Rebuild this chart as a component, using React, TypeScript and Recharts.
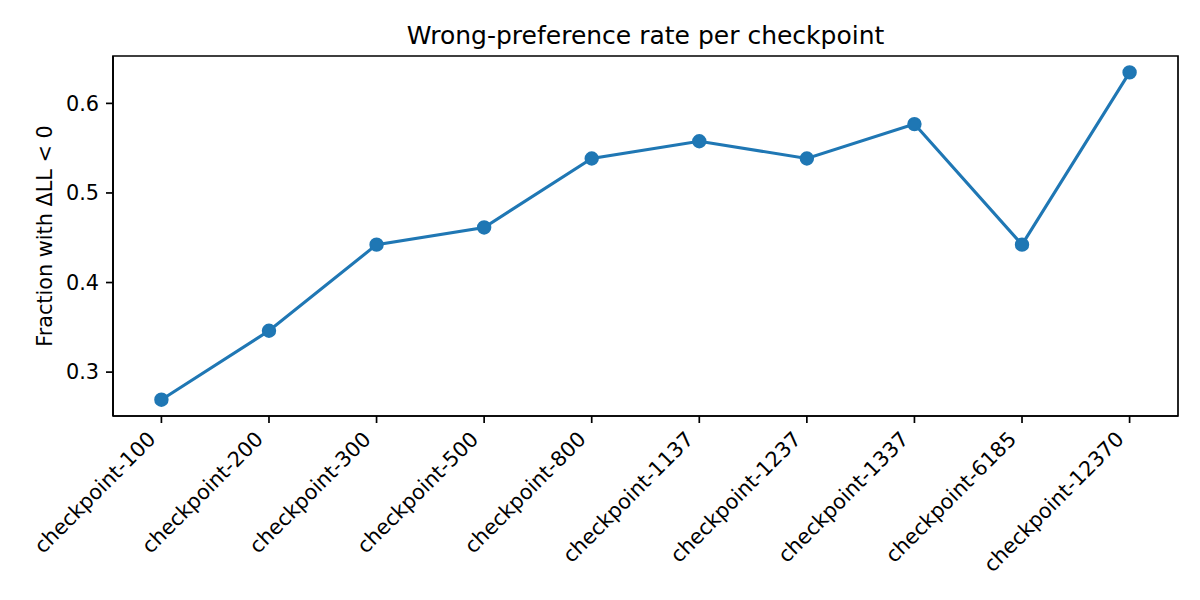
import React from "react";
import { LineChart, Line, XAxis, YAxis, ReferenceArea } from "recharts";

const checkpoints = [
  "checkpoint-100",
  "checkpoint-200",
  "checkpoint-300",
  "checkpoint-500",
  "checkpoint-800",
  "checkpoint-1137",
  "checkpoint-1237",
  "checkpoint-1337",
  "checkpoint-6185",
  "checkpoint-12370",
];
const wrongRate = [
  0.2692, 0.3462, 0.4423, 0.4615, 0.5385, 0.5577, 0.5385, 0.5769, 0.4423, 0.6346,
];
const yTicks = [0.3, 0.4, 0.5, 0.6];

const data = checkpoints.map((label, i) => ({ idx: i, label, value: wrongRate[i] }));
const xTicks = checkpoints.map((_, i) => i);

const X_MIN = -0.45;
const X_MAX = 9.45;
const Y_MIN = 0.251;
const Y_MAX = 0.6529;

const FONT = "DejaVu Sans";
const BLUE = "#1f77b4";

const XTick = (props: any) => {
  const { x, y, payload } = props;
  const label = checkpoints[payload.value];
  const ax = x - 4.5;
  const ay = y + 17.5;
  return (
    <text
      x={ax}
      y={ay}
      transform={`rotate(-45, ${ax}, ${ay})`}
      textAnchor="end"
      fontFamily={FONT}
      fontSize={20.8}
      fill="#000"
    >
      {label}
    </text>
  );
};

export default function App() {
  return (
    <div style={{ position: "absolute", left: 0, top: 0, width: 1200, height: 600, background: "#fff" }}>
      <LineChart
        width={1200}
        height={600}
        data={data}
        margin={{ top: 56, right: 22, bottom: 0, left: 0 }}
      >
        <XAxis
          dataKey="idx"
          type="number"
          domain={[X_MIN, X_MAX]}
          ticks={xTicks}
          interval={0}
          height={184}
          tickSize={7}
          tickMargin={0}
          tick={<XTick />}
          axisLine={{ stroke: "#000", strokeWidth: 1.7 }}
          tickLine={{ stroke: "#000", strokeWidth: 1.7 }}
          allowDataOverflow
        />
        <YAxis
          type="number"
          domain={[Y_MIN, Y_MAX]}
          ticks={yTicks}
          width={113}
          tickSize={7}
          tickMargin={7}
          tickFormatter={(v: number) => v.toFixed(1)}
          tick={{ fontFamily: FONT, fontSize: 20.8, fill: "#000" }}
          axisLine={{ stroke: "#000", strokeWidth: 1.7 }}
          tickLine={{ stroke: "#000", strokeWidth: 1.7 }}
          allowDataOverflow
        />
        <ReferenceArea
          x1={X_MIN}
          x2={X_MAX}
          y1={Y_MIN}
          y2={Y_MAX}
          fill="none"
          fillOpacity={0}
          stroke="#000"
          strokeWidth={1.7}
          ifOverflow="visible"
        />
        <Line
          dataKey="value"
          stroke={BLUE}
          strokeWidth={3.1}
          isAnimationActive={false}
          dot={{ r: 6.2, fill: BLUE, stroke: BLUE, strokeWidth: 2 }}
          activeDot={false}
        />
        <text
          x={645.5}
          y={43.5}
          textAnchor="middle"
          fontFamily={FONT}
          fontSize={25}
          fill="#000"
        >
          Wrong-preference rate per checkpoint
        </text>
        <text
          x={52}
          y={236}
          transform="rotate(-90, 52, 236)"
          textAnchor="middle"
          fontFamily={FONT}
          fontSize={20.8}
          fill="#000"
        >
          Fraction with ΔLL &lt; 0
        </text>
      </LineChart>
    </div>
  );
}
